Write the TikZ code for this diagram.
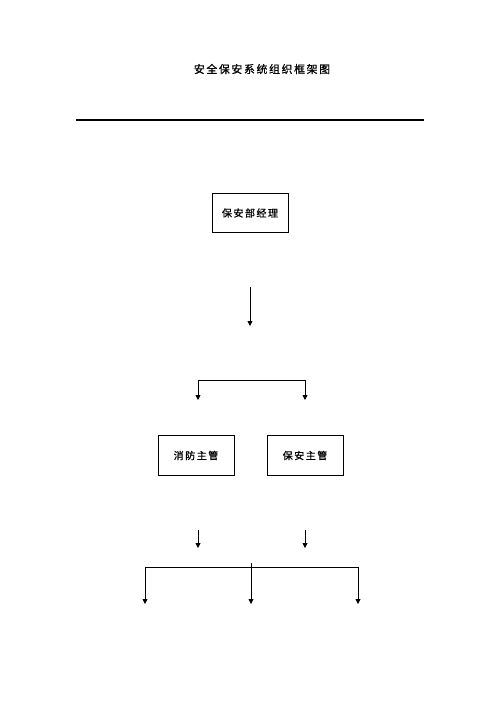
\documentclass[tikz,border=0pt]{standalone}
\usepackage{fontspec}
\setmainfont[LetterSpace=15, FakeBold=0.8]{Noto Sans CJK SC}
\usetikzlibrary{arrows.meta}

\begin{document}
\begin{tikzpicture}[x = 0.2mm, y = -0.2mm, line width = 0.5pt,
                        box/.style = {draw, minimum width = 15.2mm, minimum height = 7.9mm, inner sep = 0pt, font = \fontsize{5.7}{7}\selectfont},
                        arr/.style = {-{Triangle[length = 1mm, width = 1mm]}}]
      \useasboundingbox (0, 0) rectangle (500, 707);
      \node [font = \fontsize{6.2}{8}\selectfont] (title) at (262, 69) {安全保安系统组织框架图};
      \coordinate (ruleL) at (76, 120); \coordinate (ruleR) at (424, 120);
      \draw [line width = 1pt] (ruleL) -- (ruleR);
      % manager
      \node [box] (mgr) at (250, 213) {保安部经理};
      \coordinate (m1) at (250, 287); \coordinate (m2) at (250, 326);
      \draw [arr] (m1) -- (m2);
      \coordinate (s1) at (198, 380); \coordinate (s2) at (305, 380);
      \coordinate (t1) at (198, 400); \coordinate (t2) at (305, 400);
      \draw [arr] (s1) -- (t1); \draw [arr] (s2) -- (t2); \draw (s1) -- (s2);
      % supervisors
      \node [box] (fire) at (196, 455.5) {消防主管};
      \node [box] (guard) at (305, 455.5) {保安主管};
      \coordinate (f1) at (198, 530); \coordinate (f2) at (198, 548);
      \coordinate (g1) at (305, 530); \coordinate (g2) at (305, 548);
      \draw [arr] (f1) -- (f2); \draw [arr] (g1) -- (g2);
      \coordinate (u1) at (145, 567); \coordinate (u2) at (358, 567); \coordinate (u3) at (251, 563);
      \coordinate (v1) at (145, 604); \coordinate (v2) at (358, 604); \coordinate (v3) at (251, 604);
      \draw (u1) -- (u2);
      \draw [arr] (u1) -- (v1); \draw [arr] (u2) -- (v2); \draw [arr] (u3) -- (v3);
    \end{tikzpicture}
\end{document}
